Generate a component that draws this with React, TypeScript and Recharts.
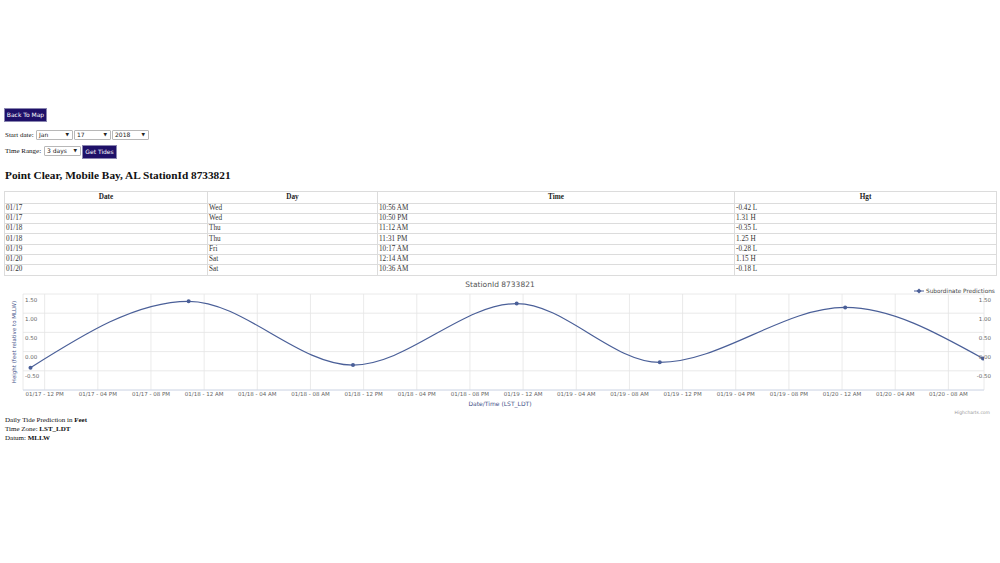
import React from 'react';
import {
  LineChart,
  Line,
  XAxis,
  YAxis,
  CartesianGrid,
} from 'recharts';

// tide table
const dates = ['01/17', '01/17', '01/18', '01/18', '01/19', '01/20', '01/20'];
const days = ['Wed', 'Wed', 'Thu', 'Thu', 'Fri', 'Sat', 'Sat'];
const times = ['10:56 AM', '10:50 PM', '11:12 AM', '11:31 PM', '10:17 AM', '12:14 AM', '10:36 AM'];
const heights = [-0.42, 1.31, -0.35, 1.25, -0.28, 1.15, -0.18];
const flags = ['L', 'H', 'L', 'H', 'L', 'H', 'L'];

// axis ticks (hours from 01/17 00:00)
const xTicks = [12, 16, 20, 24, 28, 32, 36, 40, 44, 48, 52, 56, 60, 64, 68, 72, 76, 80];
const yTicks = [-1, -0.5, 0, 0.5, 1, 1.5];

const SERIF = '"Liberation Serif", "Times New Roman", serif';
const SANS = '"DejaVu Sans", "Lucida Grande", Arial, sans-serif';
const LINE_COLOR = '#4a5f98';
const AXIS_TITLE = '#3f5189';

// turn "01/18" + "11:31 PM" into hours after 01/17 00:00
function toHours(date: string, time: string) {
  const day = parseInt(date.split('/')[1], 10) - 17;
  const [hm, ampm] = time.split(' ');
  let [h, m] = hm.split(':').map(Number);
  if (h === 12) h = 0;
  if (ampm === 'PM') h += 12;
  return day * 24 + h + m / 60;
}

const chartData = heights.map((v, i) => ({
  t: toHours(dates[i], times[i]),
  hgt: v,
}));

function tickLabel(h: number) {
  const day = 17 + Math.floor(h / 24);
  const hr = h % 24;
  const ampm = hr >= 12 ? 'PM' : 'AM';
  let h12 = hr % 12;
  if (h12 === 0) h12 = 12;
  return `01/${day} - ${String(h12).padStart(2, '0')} ${ampm}`;
}

const XTick = (props: any) => {
  const { x, payload } = props;
  return (
    <text x={x} y={119} textAnchor="middle" fontSize={5.5} fill="#666" fontFamily={SANS}>
      {tickLabel(payload.value)}
    </text>
  );
};

// same labels shown on both sides of the plot
const YTick = (props: any) => {
  const { y, payload } = props;
  if (payload.value === -1) return null;
  const label = payload.value.toFixed(2);
  return (
    <g>
      <text x={25} y={y + 7.5} textAnchor="start" fontSize={5.5} fill="#666" fontFamily={SANS}>
        {label}
      </text>
      <text x={991} y={y + 7.5} textAnchor="end" fontSize={5.5} fill="#666" fontFamily={SANS}>
        {label}
      </text>
    </g>
  );
};

const Select = ({ left, top, width, label }: { left: number; top: number; width: number; label: string }) => (
  <div
    style={{
      position: 'absolute',
      left,
      top,
      width,
      height: 10,
      boxSizing: 'border-box',
      border: '1px solid #b8b8b8',
      borderRadius: 1,
      background: '#fff',
      fontFamily: SANS,
      fontSize: 6,
      lineHeight: '8px',
      paddingLeft: 2,
      color: '#222',
    }}
  >
    {label}
    <span style={{ position: 'absolute', right: 3, top: 0, fontSize: 4.5 }}>▼</span>
  </div>
);

const Button = ({ left, top, width, label }: { left: number; top: number; width: number; label: string }) => (
  <div
    style={{
      position: 'absolute',
      left,
      top,
      width,
      height: 14,
      boxSizing: 'border-box',
      border: '1px solid #8a86b0',
      background: '#1e1068',
      color: '#fff',
      fontFamily: SANS,
      fontSize: 6,
      lineHeight: '12px',
      textAlign: 'center',
    }}
  >
    {label}
  </div>
);

const cell: React.CSSProperties = {
  border: '1px solid #dcdcdc',
  padding: '0 1px',
  height: 9.3,
  lineHeight: '9px',
  whiteSpace: 'nowrap',
};

export default function App() {
  return (
    <div
      style={{
        position: 'absolute',
        left: 0,
        top: 0,
        width: 1000,
        height: 563,
        background: '#fff',
        fontFamily: SERIF,
        color: '#111',
        overflow: 'hidden',
      }}
    >
      <Button left={4} top={108} width={43} label="Back To Map" />

      <div style={{ position: 'absolute', left: 5, top: 130, fontSize: 7, lineHeight: '10px' }}>Start date:</div>
      <Select left={36} top={130} width={37} label="Jan" />
      <Select left={74} top={130} width={37} label="17" />
      <Select left={112} top={130} width={37} label="2018" />

      <div style={{ position: 'absolute', left: 5, top: 146, fontSize: 7, lineHeight: '10px' }}>Time Range:</div>
      <Select left={44} top={146} width={37} label="3 days" />
      <Button left={82} top={145} width={35} label="Get Tides" />

      <div
        style={{
          position: 'absolute',
          left: 5,
          top: 167,
          fontSize: 11.3,
          fontWeight: 'bold',
          lineHeight: '16px',
        }}
      >
        Point Clear, Mobile Bay, AL StationId 8733821
      </div>

      <table
        style={{
          position: 'absolute',
          left: 4,
          top: 191,
          width: 992,
          borderCollapse: 'collapse',
          tableLayout: 'fixed',
          fontSize: 7.2,
          fontFamily: SERIF,
          color: '#333',
        }}
      >
        <colgroup>
          <col style={{ width: 203 }} />
          <col style={{ width: 170 }} />
          <col style={{ width: 357 }} />
          <col style={{ width: 262 }} />
        </colgroup>
        <thead>
          <tr>
            {['Date', 'Day', 'Time', 'Hgt'].map((h) => (
              <th key={h} style={{ ...cell, height: 10.5, fontWeight: 'bold', textAlign: 'center', color: '#222' }}>
                {h}
              </th>
            ))}
          </tr>
        </thead>
        <tbody>
          {dates.map((d, i) => (
            <tr key={i}>
              <td style={cell}>{d}</td>
              <td style={cell}>{days[i]}</td>
              <td style={cell}>{times[i]}</td>
              <td style={cell}>{`${heights[i].toFixed(2)} ${flags[i]}`}</td>
            </tr>
          ))}
        </tbody>
      </table>

      {/* chart */}
      <div style={{ position: 'absolute', left: 0, top: 277, width: 1000, height: 140 }}>
        <LineChart
          width={1000}
          height={140}
          data={chartData}
          margin={{ top: 17, right: 16, bottom: 7, left: 23 }}
        >
          <CartesianGrid stroke="#e4e4e4" strokeWidth={0.8} />
          <XAxis
            dataKey="t"
            type="number"
            domain={[10.37, 82.68]}
            ticks={xTicks}
            tick={<XTick />}
            tickLine={false}
            axisLine={{ stroke: '#ccd6eb', strokeWidth: 0.8 }}
            height={20}
            interval={0}
            allowDataOverflow
          />
          <YAxis
            type="number"
            domain={[-1, 1.5]}
            ticks={yTicks}
            mirror
            width={30}
            axisLine={false}
            tickLine={false}
            tick={<YTick />}
            interval={0}
          />
          <Line
            type="monotone"
            dataKey="hgt"
            stroke={LINE_COLOR}
            strokeWidth={1.2}
            dot={{ r: 2, fill: LINE_COLOR, stroke: LINE_COLOR, strokeWidth: 0 }}
            isAnimationActive={false}
          />
        </LineChart>

        <div
          style={{
            position: 'absolute',
            left: 0,
            width: 1000,
            top: 3,
            textAlign: 'center',
            fontFamily: SANS,
            fontSize: 7.5,
            color: '#555',
          }}
        >
          StationId 8733821
        </div>

        <div
          style={{
            position: 'absolute',
            left: 914,
            top: 11,
            display: 'flex',
            alignItems: 'center',
            fontFamily: SANS,
            fontSize: 5.8,
            color: '#444',
            whiteSpace: 'nowrap',
          }}
        >
          <svg width={10} height={6} style={{ marginRight: 2 }}>
            <line x1={0} y1={3} x2={10} y2={3} stroke={LINE_COLOR} strokeWidth={1} />
            <path d="M5 0.5 L7.5 3 L5 5.5 L2.5 3 Z" fill={LINE_COLOR} />
          </svg>
          Subordinate Predictions
        </div>

        <div
          style={{
            position: 'absolute',
            left: 14,
            top: 65,
            width: 0,
            height: 0,
          }}
        >
          <div
            style={{
              position: 'absolute',
              left: 0,
              top: 0,
              transform: 'translate(-50%, -50%) rotate(-90deg)',
              fontFamily: SANS,
              fontSize: 5.5,
              color: AXIS_TITLE,
              whiteSpace: 'nowrap',
            }}
          >
            Height (feet relative to MLLW)
          </div>
        </div>

        <div
          style={{
            position: 'absolute',
            left: 0,
            width: 1000,
            top: 123,
            textAlign: 'center',
            fontFamily: SANS,
            fontSize: 6,
            color: AXIS_TITLE,
          }}
        >
          Date/Time (LST_LDT)
        </div>

        <div
          style={{
            position: 'absolute',
            right: 10,
            top: 133,
            fontFamily: SANS,
            fontSize: 4.5,
            color: '#999',
          }}
        >
          Highcharts.com
        </div>
      </div>

      <div style={{ position: 'absolute', left: 5, top: 416, fontSize: 7, lineHeight: '9px' }}>
        <div>
          Daily Tide Prediction in <b>Feet</b>
        </div>
        <div>
          Time Zone: <b>LST_LDT</b>
        </div>
        <div>
          Datum: <b>MLLW</b>
        </div>
      </div>
    </div>
  );
}
